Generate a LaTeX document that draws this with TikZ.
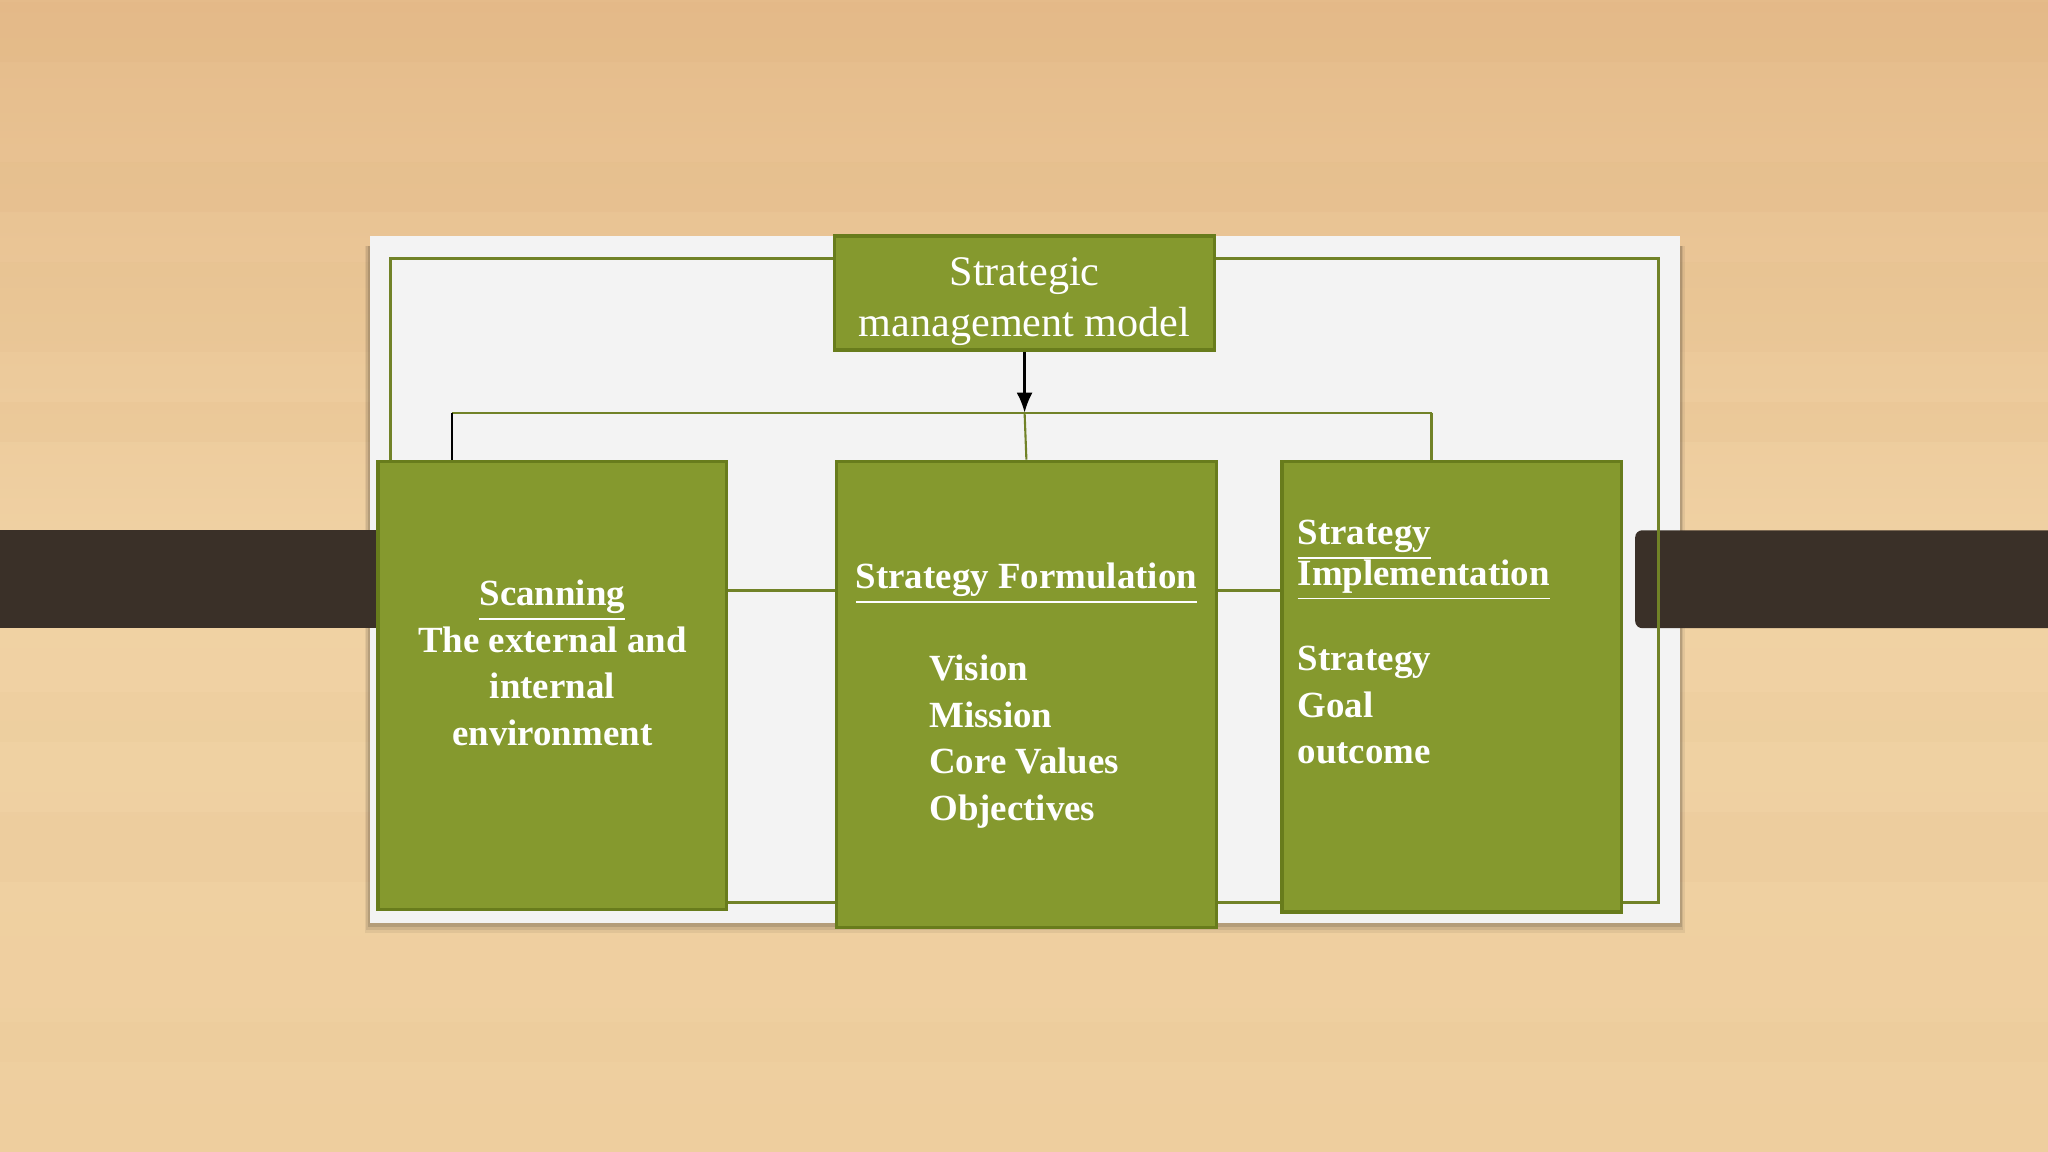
\documentclass[tikz,border=0pt]{standalone}
\usepackage{fontspec}
\setmainfont{Liberation Serif}
\usetikzlibrary{positioning,arrows.meta}
\definecolor{WoodTop}{RGB}{229,187,138}
\definecolor{WoodMid}{RGB}{240,210,164}
\definecolor{WoodLow}{RGB}{238,206,158}
\definecolor{Strap}{RGB}{58,48,40}
\definecolor{Panel}{RGB}{243,243,243}
\definecolor{Olive}{RGB}{133,153,46}
\definecolor{OliveDark}{RGB}{104,124,28}
\colorlet{FrameGreen}{Olive!85!black}

\begin{document}
\begin{tikzpicture}[
    olivebox/.style={draw=OliveDark, line width=1pt, fill=Olive, inner sep=0pt},
    frameline/.style={FrameGreen, line width=0.8pt},
    boxtext/.style={text=white, inner sep=0pt, font=\bfseries\fontsize{10.5}{13.2}\selectfont},
]
% wood
\shade[top color=WoodTop, bottom color=WoodLow, middle color=WoodMid] (0,0) rectangle (20.48,11.52);
\useasboundingbox (0,0) rectangle (20.48,11.52);
\foreach \y/\h/\o in {10.9/0.6/0.12,9.4/0.5/0.1,8.0/0.9/0.08,7.1/0.4/0.1,4.1/0.5/0.06,2.7/0.7/0.07,0.9/0.4/0.05} {
    \fill[WoodTop!80!brown, opacity=\o] (0,\y) rectangle (20.48,\y+\h);
}
% panel with soft shadow
\foreach \s/\o in {0.10/0.06,0.07/0.08,0.04/0.12} {
    \fill[black, opacity=\o] (3.696-\s/2,2.286-\s) rectangle (16.796+\s/2,9.156-0.1);
}
\fill[Panel] (3.696,2.286) rectangle (16.796,9.156);
% straps
\fill[Strap] (0,5.238) rectangle (3.80,6.217);
\fill[Strap, rounded corners=2pt] (16.352,5.238) rectangle (20.8,6.217);
\draw[frameline] (3.905,2.495) rectangle (16.587,8.934);

% boxes
\node[olivebox, minimum width=3.80cm, minimum height=1.14cm, text=white, align=center,
      font=\fontsize{12}{14.5}\selectfont] (title) at (10.246,8.588) {\rule{0pt}{12.5pt}Strategic\\management model};
\node[olivebox, anchor=north west, minimum width=3.487cm, minimum height=4.48cm] (scan) at (3.762,6.923) {};
\node[olivebox, anchor=north west, minimum width=3.801cm, minimum height=4.663cm] (form) at (8.346,6.923) {};
\node[olivebox, anchor=north west, minimum width=3.395cm, minimum height=4.506cm] (impl) at (12.800,6.923) {};

% connectors
\coordinate (bus) at (0,7.393);
\coordinate (mid) at (0,5.616);
\coordinate (busL) at (4.519,7.393);
\coordinate (busR) at (14.315,7.393);
\draw[frameline, line width=0.6pt] (busL) -- (busR);
\draw[black, line width=0.6pt] (busL) -- (busL |- scan.north);
\draw[frameline, line width=0.6pt] (title.south |- bus) -- (form.north);
\draw[frameline, line width=0.6pt] (busR) -- (busR |- impl.north);
\draw[black, line width=0.7pt, -{Latex[length=2mm,width=1.6mm]}] (title.south) -- (title.south |- bus);
\draw[frameline] (scan.east |- mid) -- (form.west |- mid);
\draw[frameline] (form.east |- mid) -- (impl.west |- mid);

% texts
\node[boxtext, align=center, below=1.20cm of scan.north] (scantext) {\underline{Scanning}\\The external and\\internal\\environment};
\node[boxtext, below=1.03cm of form.north] (formhead) {\underline{Strategy Formulation}};
\node[boxtext, align=left, anchor=north west] (formlist) at ([xshift=0.94cm, yshift=-1.95cm]form.north west) {Vision\\Mission\\Core Values\\Objectives};
\node[boxtext, align=left, anchor=north west] (impltext) at ([xshift=0.17cm, yshift=-0.60cm]impl.north west) {\underline{Strategy}\\[-1.5pt]\underline{Implementation}\\[11pt]Strategy\\Goal\\outcome};
\end{tikzpicture}
\end{document}
